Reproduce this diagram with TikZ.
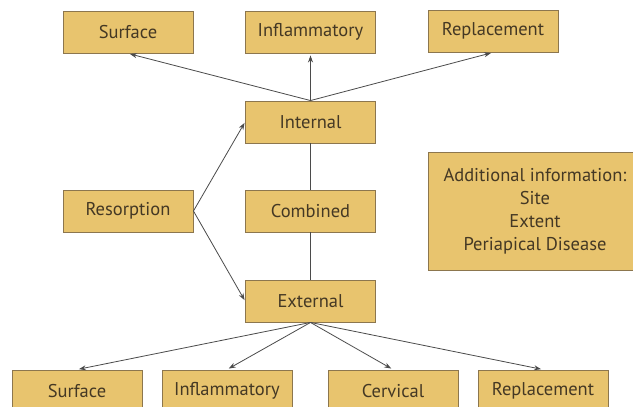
\documentclass[tikz,border=0pt]{standalone}
\usepackage{fontspec}
\setmainfont{PT Sans}
\usetikzlibrary{arrows.meta}
\definecolor{boxfill}{RGB}{232,196,110}
\definecolor{boxdraw}{RGB}{140,118,78}
\definecolor{boxtext}{RGB}{68,56,36}
\definecolor{linecol}{RGB}{75,75,75}
\begin{document}
\begin{tikzpicture}[x=1pt,y=-1pt,
  box/.style={draw=boxdraw,fill=boxfill,line width=0.9pt,minimum width=130pt,minimum height=42pt,inner sep=0pt,text=boxtext,font=\fontsize{18.5}{20}\selectfont},
  conn/.style={draw=linecol,line width=0.8pt},
  arr/.style={conn,-{Stealth[length=7pt,width=5pt]},shorten >=2pt}]
\useasboundingbox[fill=white] (0,0) rectangle (633,407);
% top row
\node[box] (ts) at (128,32) {Surface};
\node[box] (ti) at (310.5,32) {Inflammatory};
\node[box] (tr) at (493,31) {Replacement};
% middle column
\node[box] (int) at (310.5,122) {Internal};
\node[box] (res) at (128,211) {Resorption};
\node[box] (com) at (310.5,211) {Combined};
\node[box] (ext) at (310.5,301) {External};
% additional info
\node[box,minimum width=214pt,minimum height=118pt,align=center,font=\fontsize{18.5}{23}\selectfont] (add) at (535,211)
  {Additional information:\\Site\\Extent\\Periapical Disease};
% bottom row
\node[box] (bs) at (77,391) {Surface};
\node[box] (bi) at (227,391) {Inflammatory};
\node[box] (bc) at (393,391) {Cervical};
\node[box] (br) at (543,391) {Replacement};
% connectors
\draw[arr] (int.north) -- (ts.south);
\draw[arr] (int.north) -- (ti.south);
\draw[arr] (int.north) -- (tr.south);
\draw[conn] (int.south) -- (com.north);
\draw[conn] (com.south) -- (ext.north);
\draw[arr,shorten >=1pt] (res.east) -- (int.west);
\draw[arr,shorten >=1pt] (res.east) -- (ext.west);
\draw[arr] (ext.south) -- (bs.north);
\draw[arr] (ext.south) -- (bi.north);
\draw[arr] (ext.south) -- (bc.north);
\draw[arr] (ext.south) -- (br.north);
\end{tikzpicture}
\end{document}
